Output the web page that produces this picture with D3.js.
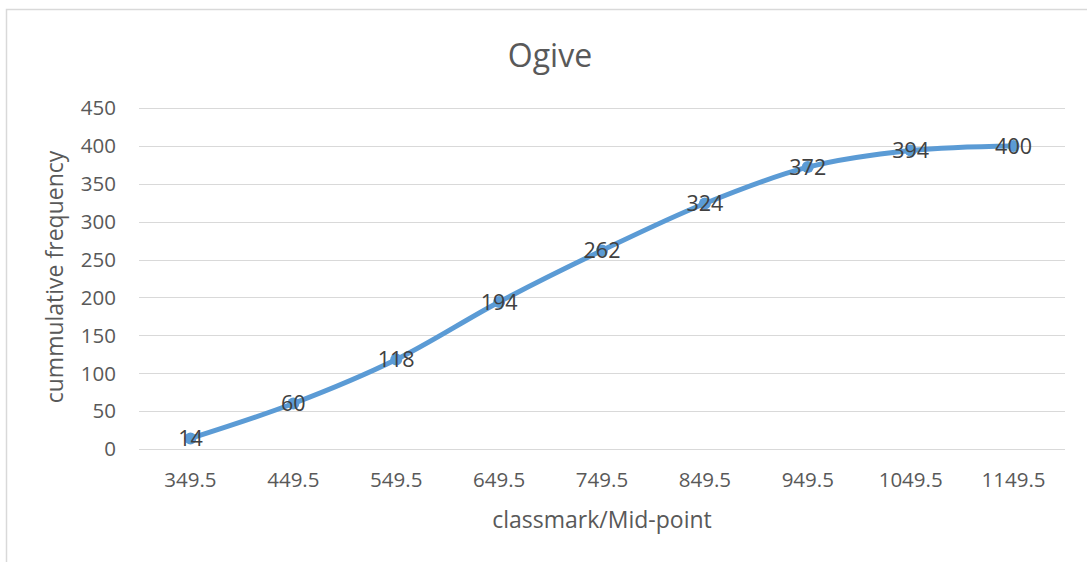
<!DOCTYPE html>
<html>
<head>
<meta charset="utf-8">
<script src="https://cdn.jsdelivr.net/npm/d3@7"></script>
<style>
  body { margin: 0; background: #fff; }
  svg { display: block; font-family: "Open Sans", Lato, sans-serif; }
</style>
</head>
<body>
<svg width="1087" height="562"></svg>
<script>
// chart data
var midpoints = ["349.5", "449.5", "549.5", "649.5", "749.5", "849.5", "949.5", "1049.5", "1149.5"];
var cumFreq = [14, 60, 118, 194, 262, 324, 372, 394, 400];
var yTicks = [0, 50, 100, 150, 200, 250, 300, 350, 400, 450];

var svg = d3.select("svg");

// outer chart border (runs off the right and bottom edge)
svg.append("rect")
    .attr("x", 6.5).attr("y", 9.5)
    .attr("width", 1100).attr("height", 600)
    .attr("fill", "none")
    .attr("stroke", "#d9d9d9")
    .attr("stroke-width", 1.5);

var plotLeft = 139, plotRight = 1065, plotTop = 108, plotBottom = 449;

var x = d3.scaleBand().domain(midpoints).range([plotLeft, plotRight]);
var y = d3.scaleLinear().domain([0, 450]).range([plotBottom, plotTop]);
var cx = d => x(d) + x.bandwidth() / 2;

// gridlines
svg.append("g").selectAll("line")
    .data(yTicks)
    .enter().append("line")
    .attr("x1", plotLeft).attr("x2", plotRight)
    .attr("y1", d => Math.round(y(d)) + 0.5)
    .attr("y2", d => Math.round(y(d)) + 0.5)
    .attr("stroke", "#d9d9d9")
    .attr("stroke-width", 1.2);

// y tick labels
svg.append("g").selectAll("text")
    .data(yTicks)
    .enter().append("text")
    .attr("x", 116)
    .attr("y", d => y(d))
    .attr("dy", "0.36em")
    .attr("text-anchor", "end")
    .attr("fill", "#595959")
    .style("font-size", "20.5px")
    .text(d => d);

// x tick labels
svg.append("g").selectAll("text")
    .data(midpoints)
    .enter().append("text")
    .attr("x", cx)
    .attr("y", 487)
    .attr("text-anchor", "middle")
    .attr("fill", "#595959")
    .style("font-size", "20.5px")
    .text(d => d);

// smoothed line
var line = d3.line()
    .x((d, i) => cx(midpoints[i]))
    .y(d => y(d))
    .curve(d3.curveCatmullRom.alpha(0));

svg.append("path")
    .datum(cumFreq)
    .attr("d", line)
    .attr("fill", "none")
    .attr("stroke", "#5b9bd5")
    .attr("stroke-width", 5)
    .attr("stroke-linecap", "round");

svg.append("g").selectAll("circle")
    .data(cumFreq)
    .enter().append("circle")
    .attr("cx", (d, i) => cx(midpoints[i]))
    .attr("cy", d => y(d))
    .attr("r", 6)
    .attr("fill", "#5b9bd5");

// data labels
svg.append("g").selectAll("text")
    .data(cumFreq)
    .enter().append("text")
    .attr("x", (d, i) => cx(midpoints[i]))
    .attr("y", d => y(d))
    .attr("dy", "0.36em")
    .attr("text-anchor", "middle")
    .attr("fill", "#404040")
    .style("font-size", "21.5px")
    .text(d => d);

// title
svg.append("text")
    .attr("x", 550).attr("y", 67)
    .attr("text-anchor", "middle")
    .attr("fill", "#595959")
    .style("font-size", "32px")
    .text("Ogive");

// axis titles
svg.append("text")
    .attr("x", 602).attr("y", 528)
    .attr("text-anchor", "middle")
    .attr("fill", "#595959")
    .style("font-size", "23px")
    .text("classmark/Mid-point");

svg.append("text")
    .attr("transform", "translate(63,277) rotate(-90)")
    .attr("text-anchor", "middle")
    .attr("fill", "#595959")
    .style("font-size", "23px")
    .text("cummulative frequency");
</script>
</body>
</html>
